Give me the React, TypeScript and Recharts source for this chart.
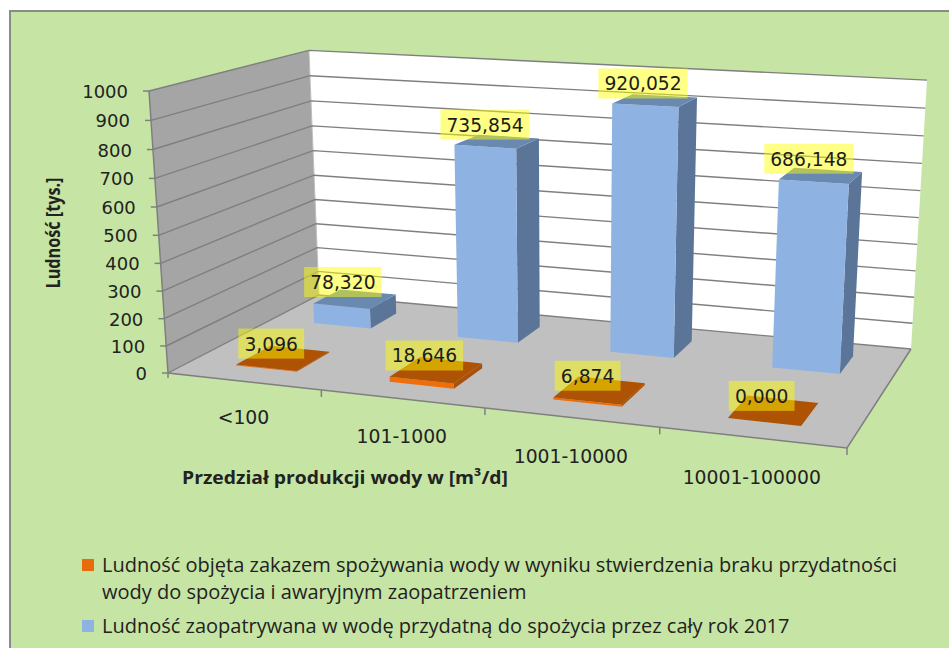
import React from "react";
import { Bar, BarChart, CartesianGrid, LabelList, Legend, XAxis, YAxis } from "recharts";

const categories = ["<100", "101-1000", "1001-10000", "10001-100000"];
const bannedValues = [3.096, 18.646, 6.874, 0];
const suppliedValues = [78.32, 735.854, 920.052, 686.148];
const yTicks = [0, 100, 200, 300, 400, 500, 600, 700, 800, 900, 1000];
const seriesNames = [
	"Ludność objęta zakazem spożywania wody w wyniku stwierdzenia braku przydatności wody do spożycia i awaryjnym zaopatrzeniem",
	"Ludność zaopatrywana w wodę przydatną do spożycia przez cały rok 2017",
];

const data = categories.map((name, i) => ({ name, banned: bannedValues[i], supplied: suppliedValues[i] }));

// flat plot box the scales work in, everything is then projected into the 3D room
const PLOT = { left: 100, top: 100, size: 400 };
const toU = (x: number) => (x - PLOT.left) / PLOT.size;
const toH = (y: number) => (PLOT.top + PLOT.size - y) / PLOT.size;

// room corners on screen
const FRONT_LEFT = [168, 373];
const FRONT_RIGHT = [847, 448];
const BACK_RIGHT = [911, 349];
const BACK_LEFT = [319, 295];
const TOP_FRONT_LEFT = [149, 91];
const TOP_BACK_RIGHT = [927, 79];
// the top right corner sits a bit lower than a true projection puts it
const TOP_TILT = 4;

const makeProjection = () => {
	const [x0, y0] = FRONT_LEFT;
	const [x1, y1] = FRONT_RIGHT;
	const [x2, y2] = BACK_RIGHT;
	const [x3, y3] = BACK_LEFT;
	const dx1 = x1 - x2;
	const dx2 = x3 - x2;
	const dy1 = y1 - y2;
	const dy2 = y3 - y2;
	const sx = x0 - x1 + x2 - x3;
	const sy = y0 - y1 + y2 - y3;
	const den = dx1 * dy2 - dx2 * dy1;
	const g = (sx * dy2 - dx2 * sy) / den;
	const h = (dx1 * sy - sx * dy1) / den;
	const a = x1 - x0 + g * x1;
	const b = x3 - x0 + h * x3;
	const d = y1 - y0 + g * y1;
	const e = y3 - y0 + h * y3;
	const wF = g + h + 1;
	const k = (wF * (TOP_BACK_RIGHT[0] - x2) - TOP_FRONT_LEFT[0] + x0) / (TOP_FRONT_LEFT[0] - TOP_BACK_RIGHT[0]);
	const l = TOP_FRONT_LEFT[0] * (1 + k) - x0;
	const m = TOP_FRONT_LEFT[1] * (1 + k) - y0;
	return (u: number, v: number, t: number): [number, number] => {
		const w = g * u + h * v + 1 + k * t;
		return [(a * u + b * v + x0 + l * t) / w, (d * u + e * v + y0 + m * t) / w + TOP_TILT * t * u];
	};
};
const project = makeProjection();

const poly = (pts: [number, number][]) => pts.map((p) => p[0].toFixed(1) + "," + p[1].toFixed(1)).join(" ");

const GRID = "#7f7f7f";

const Room = () => (
	<g>
		<polygon points={poly([project(0, 0, 0), project(0, 1, 0), project(0, 1, 1), project(0, 0, 1)])} fill="#a5a5a5" />
		<polygon points={poly([project(0, 1, 0), project(1, 1, 0), project(1, 1, 1), project(0, 1, 1)])} fill="#ffffff" />
		<polygon points={poly([project(0, 0, 0), project(1, 0, 0), project(1, 1, 0), project(0, 1, 0)])} fill="#c0c0c0" />
		<polyline points={poly([project(0, 0, 1), project(0, 0, 0), project(1, 0, 0), project(1, 1, 0)])} fill="none" stroke={GRID} strokeWidth={1.5} />
		<line x1={project(0, 1, 0)[0]} y1={project(0, 1, 0)[1]} x2={project(0, 1, 1)[0]} y2={project(0, 1, 1)[1]} stroke="#bdbdbd" />
	</g>
);

// the room goes in with the first grid line so the lines stay on top of the walls
const gridLine = (props: any) => {
	const t = toH(props.y1);
	return (
		<g key={props.key ?? props.index}>
			{props.index === 0 && <Room />}
			<polyline points={poly([project(0, 0, t), project(0, 1, t), project(1, 1, t)])} fill="none" stroke={GRID} strokeWidth={1.4} />
		</g>
	);
};

const YTick = (props: any) => {
	const t = toH(props.y);
	const [x, y] = project(0, 0, t);
	return (
		<g>
			<line x1={x - 6} y1={y} x2={x} y2={y} stroke={GRID} strokeWidth={1.5} />
			<text x={x - 21} y={y + 7} textAnchor="end" fontFamily="DejaVu Sans" fontSize={18} fill="#222">
				{props.payload.value}
			</text>
		</g>
	);
};

const XTick = (props: any) => {
	const u = toU(props.x);
	const [x, y] = project(u, 0, 0);
	const [ex, ey] = project(u + 0.125, 0, 0);
	const [sx, sy] = project(u - 0.125, 0, 0);
	return (
		<g>
			<line x1={ex} y1={ey} x2={ex} y2={ey + 7} stroke={GRID} strokeWidth={1.5} />
			{props.index === 0 && <line x1={sx} y1={sy} x2={sx} y2={sy + 5} stroke={GRID} strokeWidth={1.5} />}
			<text x={x} y={y + 42 + u * 5} textAnchor="middle" fontFamily="DejaVu Sans" fontSize={18.8} fill="#222">
				{props.payload.value}
			</text>
		</g>
	);
};

const makeBarShape = (v0: number, v1: number, front: string, side: string, top: string) => (props: any) => {
	const u0 = toU(props.x);
	const u1 = toU(props.x + props.width);
	const t = toH(props.y);
	return (
		<g>
			<polygon points={poly([project(u1, v0, 0), project(u1, v1, 0), project(u1, v1, t), project(u1, v0, t)])} fill={side} />
			<polygon points={poly([project(u0, v0, 0), project(u1, v0, 0), project(u1, v0, t), project(u0, v0, t)])} fill={front} />
			<polygon points={poly([project(u0, v0, t), project(u1, v0, t), project(u1, v1, t), project(u0, v1, t)])} fill={top} />
		</g>
	);
};

const makeValueLabel = (v0: number, v1: number, lift: number) => (props: any) => {
	const u = toU(props.x + props.width / 2);
	const t = toH(props.y + (props.height < 0 ? props.height : 0));
	const [x, y] = project(u, (v0 + v1) / 2, t);
	const text = Number(props.value).toFixed(3).replace(".", ",");
	const w = text.replace(",", "").length * 11.7 + 19;
	const cx = x - 12;
	const cy = y - lift;
	return (
		<g>
			<rect x={cx - w / 2} y={cy - 15} width={w} height={30} fill="#ffff00" fillOpacity={0.48} />
			<text x={cx} y={cy + 7} textAnchor="middle" fontFamily="DejaVu Sans" fontSize={18.7} fill="#1c1c1c">
				{text}
			</text>
		</g>
	);
};

const LegendBox = ({ payload }: any) => {
	const items = [...(payload ?? [])].sort((a: any, b: any) => String(a.value).localeCompare(String(b.value)));
	return (
		<div style={{ position: "relative", width: 949, height: 100, fontFamily: "Open Sans", fontSize: 20, lineHeight: "27px", color: "#222" }}>
			{items.map((item: any, i: number) => (
				<div key={item.value} style={{ position: "absolute", left: 102, top: i === 0 ? 0 : 61, width: 800 }}>
					<span style={{ position: "absolute", left: -20, top: 8, width: 12, height: 12, background: item.color }} />
					{item.value}
				</div>
			))}
		</div>
	);
};

const BANNED_DEPTH = [0.14, 0.36];
const SUPPLIED_DEPTH = [0.66, 0.86];

export default function App() {
	return (
		<div style={{ position: "absolute", left: 0, top: 0, width: 949, height: 648, background: "#fff", overflow: "hidden" }}>
			<div style={{ position: "absolute", left: 9, top: 10, width: 940, height: 638, background: "#c6e5a4", borderLeft: "2px solid #8a8a8a", borderTop: "2px solid #8a8a8a" }} />
			<div style={{ position: "absolute", left: 0, top: 0 }}>
				<BarChart
					width={949}
					height={648}
					data={data}
					margin={{ top: PLOT.top, left: PLOT.left - 1, right: 949 - PLOT.left - PLOT.size, bottom: 648 - PLOT.top - PLOT.size - 1 }}
					barSize={40}
					barGap={-40}>
					<CartesianGrid vertical={false} horizontal={gridLine} />
					<XAxis
						dataKey="name"
						height={1}
						axisLine={false}
						tickLine={false}
						interval={0}
						tick={XTick}
						label={() => (
							<text x={345} y={484} textAnchor="middle" fontFamily="Open Sans" fontWeight="bold" fontSize={18.5} textLength={326} lengthAdjust="spacingAndGlyphs" fill="#222">
								Przedział produkcji wody w [m³/d]
							</text>
						)}
					/>
					<YAxis
						width={1}
						domain={[0, 1000]}
						ticks={yTicks}
						interval={0}
						axisLine={false}
						tickLine={false}
						tick={YTick}
						label={() => (
							<text x={0} y={0} transform="translate(60,233) rotate(-90)" textAnchor="middle" fontFamily="Open Sans" fontWeight="bold" fontSize={19} textLength={111} lengthAdjust="spacingAndGlyphs" fill="#222">
								Ludność [tys.]
							</text>
						)}
					/>
					<Bar
						dataKey="supplied"
						name={seriesNames[1]}
						fill="#8eb3e2"
						isAnimationActive={false}
						shape={makeBarShape(SUPPLIED_DEPTH[0], SUPPLIED_DEPTH[1], "#8eb3e2", "#5b7598", "#6a89b0")}>
						<LabelList dataKey="supplied" content={makeValueLabel(SUPPLIED_DEPTH[0], SUPPLIED_DEPTH[1], 17)} />
					</Bar>
					<Bar
						dataKey="banned"
						name={seriesNames[0]}
						fill="#e96c0c"
						isAnimationActive={false}
						shape={makeBarShape(BANNED_DEPTH[0], BANNED_DEPTH[1], "#ee6e0a", "#a9500a", "#ae5203")}>
						<LabelList dataKey="banned" content={makeValueLabel(BANNED_DEPTH[0], BANNED_DEPTH[1], 14.5)} />
					</Bar>
					<Legend layout="vertical" align="center" verticalAlign="middle" content={LegendBox} wrapperStyle={{ left: 0, top: 551, bottom: "auto", width: 949 }} />
				</BarChart>
			</div>
		</div>
	);
}
